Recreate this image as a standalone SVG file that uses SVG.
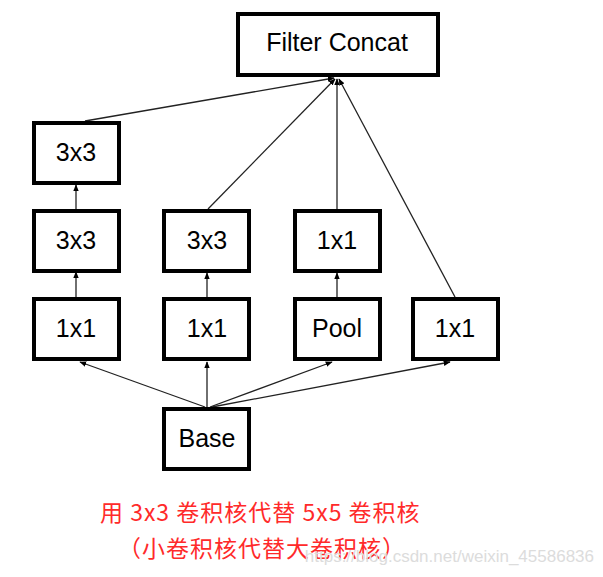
<svg xmlns="http://www.w3.org/2000/svg" width="603" height="577" viewBox="0 0 603 577">
<style>
.box{fill:#fff;stroke:#000;stroke-width:4}
.lbl{font-family:"Liberation Sans",Arial,sans-serif;font-size:25px;fill:#000;text-anchor:middle}
.edge{stroke:#222;stroke-width:1.3;fill:none;marker-end:url(#ah)}
.red{font-family:"Noto Sans CJK SC","Microsoft YaHei",sans-serif;font-size:23px;fill:#ff2a2a;letter-spacing:1px}
.wm{font-family:"Liberation Sans",Arial,sans-serif;font-size:17px;fill:#dcdcdc}
</style>
<defs>
<marker id="ah" viewBox="0 0 10 10" refX="9" refY="5" markerWidth="7" markerHeight="7" markerUnits="userSpaceOnUse" orient="auto">
<path d="M0,1 L10,5 L0,9 Z" fill="#000"/>
</marker>
</defs>
<rect width="603" height="577" fill="#fff"/>
<g id="connectors">
<line class="edge" x1="205" y1="407" x2="80" y2="362"/>
<line class="edge" x1="207" y1="407" x2="207" y2="362"/>
<line class="edge" x1="210" y1="407" x2="332" y2="362"/>
<line class="edge" x1="212" y1="407" x2="450" y2="362"/>
<line class="edge" x1="76" y1="297" x2="76" y2="272"/>
<line class="edge" x1="207" y1="297" x2="207" y2="273"/>
<line class="edge" x1="337" y1="297" x2="337" y2="273"/>
<line class="edge" x1="76" y1="209" x2="76" y2="185"/>
<line class="edge" x1="85" y1="121" x2="334" y2="78"/>
<line class="edge" x1="208" y1="209" x2="335" y2="79"/>
<line class="edge" x1="337" y1="209" x2="337" y2="79"/>
<line class="edge" x1="455" y1="297" x2="339" y2="79"/>
</g>
<g id="filter_concat"><rect class="box" x="238" y="14" width="200" height="61"/><text class="lbl" x="337" y="51">Filter Concat</text></g>
<g id="b1_3x3_top"><rect class="box" x="34" y="123" width="85" height="60"/><text class="lbl" x="76" y="161">3x3</text></g>
<g id="b1_3x3"><rect class="box" x="34" y="211" width="85" height="60"/><text class="lbl" x="76" y="249">3x3</text></g>
<g id="b1_1x1"><rect class="box" x="34" y="299" width="85" height="60"/><text class="lbl" x="76" y="337">1x1</text></g>
<g id="b2_3x3"><rect class="box" x="164" y="211" width="85" height="60"/><text class="lbl" x="207" y="249">3x3</text></g>
<g id="b2_1x1"><rect class="box" x="164" y="299" width="85" height="60"/><text class="lbl" x="207" y="337">1x1</text></g>
<g id="b3_1x1"><rect class="box" x="295" y="211" width="85" height="60"/><text class="lbl" x="337" y="249">1x1</text></g>
<g id="b3_pool"><rect class="box" x="295" y="299" width="85" height="60"/><text class="lbl" x="337" y="337">Pool</text></g>
<g id="b4_1x1"><rect class="box" x="413" y="299" width="85" height="60"/><text class="lbl" x="455" y="337">1x1</text></g>
<g id="base"><rect class="box" x="164" y="409" width="85" height="60"/><text class="lbl" x="207" y="447">Base</text></g>
<text class="red" x="100" y="521">用 3x3 卷积核代替 5x5 卷积核</text>
<text class="red" x="118" y="557">（小卷积核代替大卷积核）</text>
<text class="wm" x="594" y="562" text-anchor="end">https://blog.csdn.net/weixin_45586836</text>
</svg>
